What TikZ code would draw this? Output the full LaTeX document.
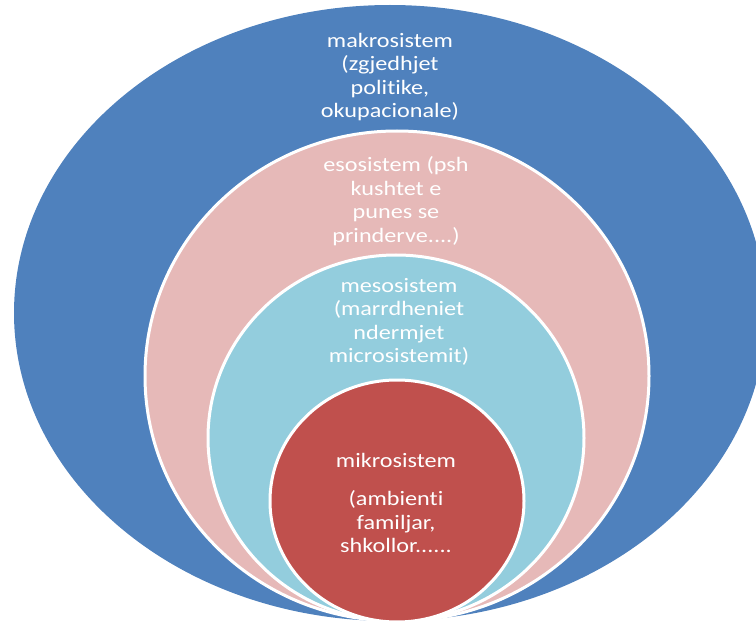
\documentclass[tikz,border=0pt]{standalone}
\usepackage{fontspec}
\setmainfont{Carlito}[Ligatures=NoCommon]
\definecolor{makroblue}{HTML}{4F81BD}
\definecolor{esopink}{HTML}{E6B9B8}
\definecolor{mesoblue}{HTML}{93CDDD}
\definecolor{mikrored}{HTML}{C0504D}
\begin{document}
\begin{tikzpicture}[x=1pt,y=-1pt]

    \tikzset{
      ring/.style={
        draw=white,
        line width=3pt,
      },
      ringtext/.style={
        text=white,
        align=center,
        inner sep=0pt,
        xscale=1.18,
        font=\fontsize{20.5}{23.5}\selectfont,
      },
    }
    \useasboundingbox (0,0) rectangle (756,623);
    \clip (0,0) rectangle (756,623);
	\fill[makroblue] (390,313) ellipse [x radius=376pt, y radius=308pt];
	\filldraw[ring,fill=esopink] (397,376) ellipse [x radius=252pt, y radius=245pt];
	\filldraw[ring,fill=mesoblue] (396,438) ellipse [x radius=188pt, y radius=183pt];
	\filldraw[ring,fill=mikrored] (397,501) ellipse [x radius=127pt, y radius=121pt];
	\node[ringtext] (makro) at (390,77) {makrosistem\\(zgjedhjet\\politike,\\okupacionale)};
	\node[ringtext] (eso) at (396,201) {esosistem (psh\\kushtet e\\punes se\\prinderve....)};
	\node[ringtext] (meso) at (399,322) {mesosistem\\(marrdheniet\\ndermjet\\microsistemit)};
	\node[ringtext] (mikro) at (396,503) {mikrosistem\\[15pt](ambienti\\familjar,\\shkollor......};

\end{tikzpicture}
\end{document}
